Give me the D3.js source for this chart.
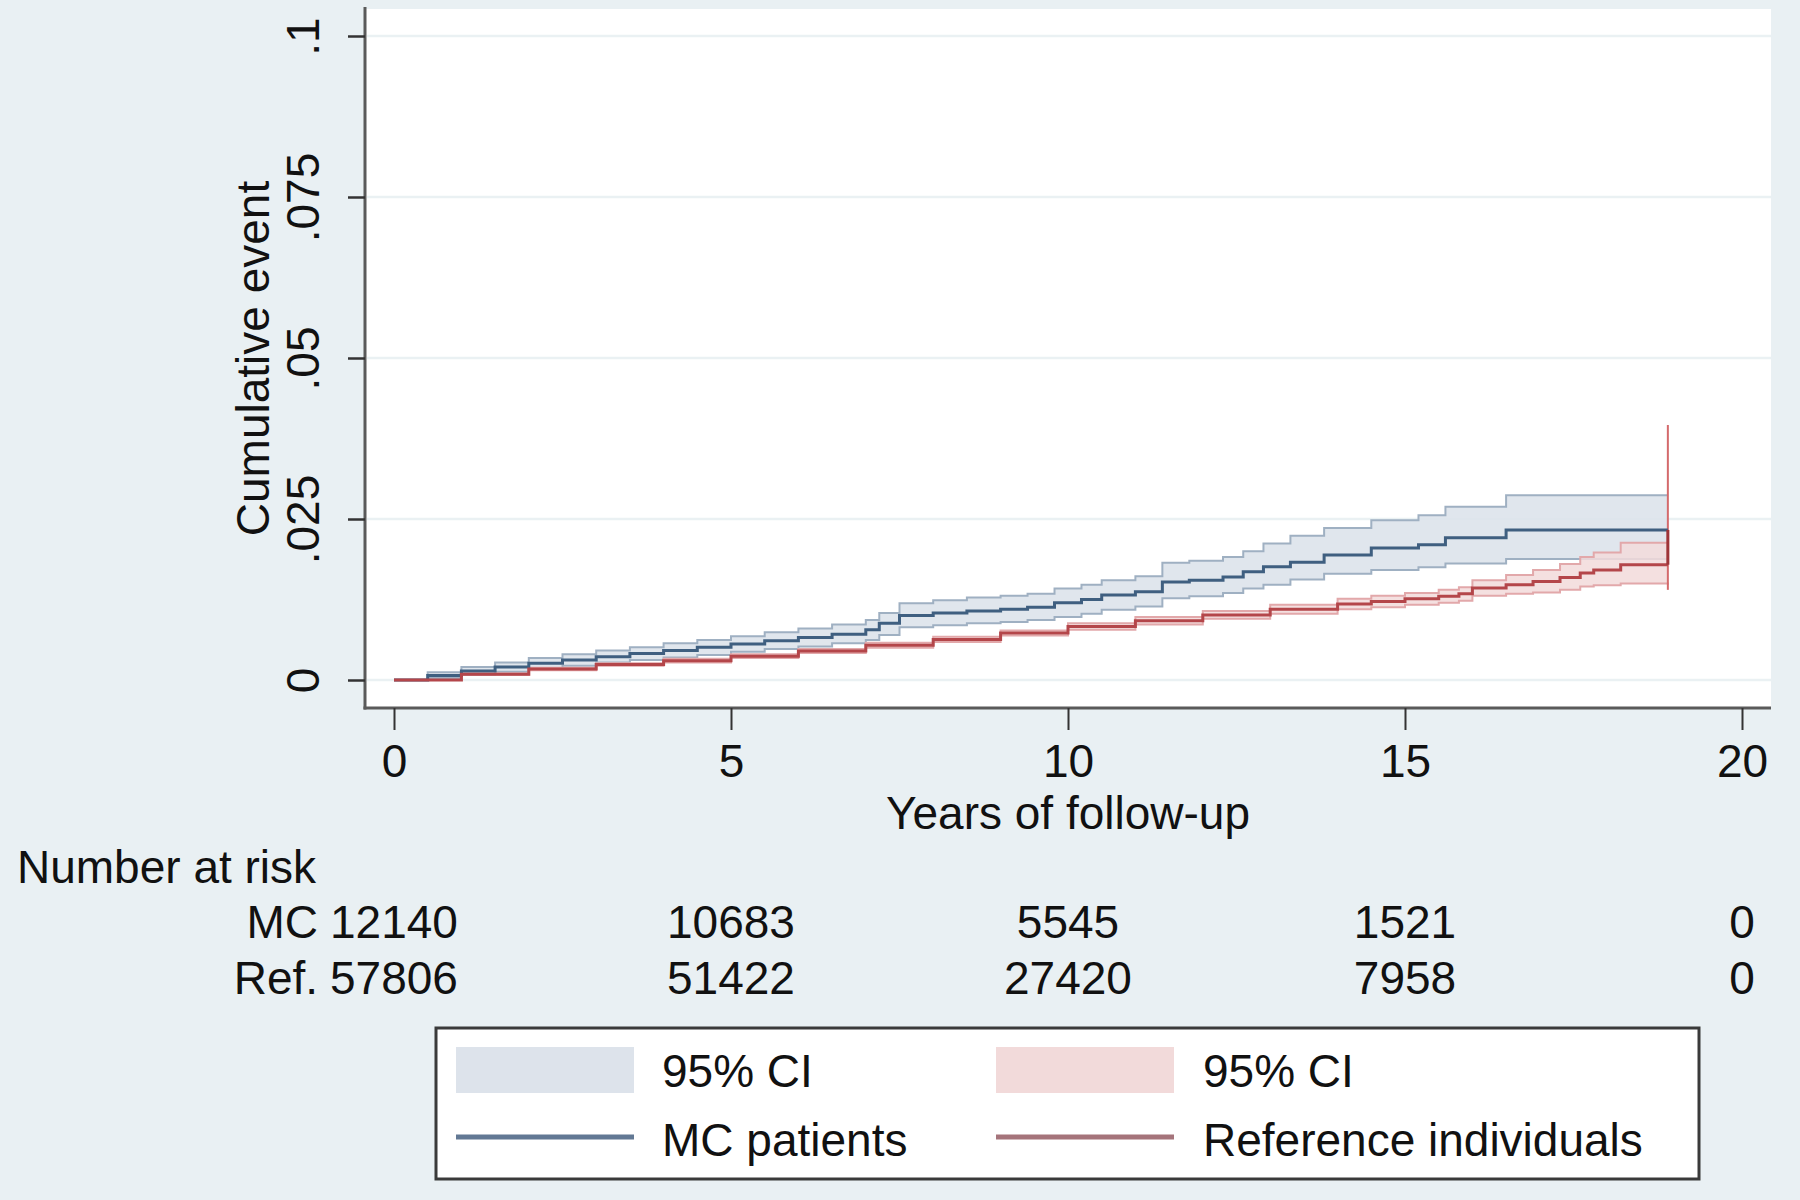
<!DOCTYPE html>
<html>
<head>
<meta charset="utf-8">
<script src="https://cdn.jsdelivr.net/npm/d3@7"></script>
<style>
  html, body { margin: 0; padding: 0; background: #e9f0f3; }
  svg { display: block; }
  text { font-family: "Liberation Sans", Arial, Helvetica, sans-serif; fill: #111; }
</style>
</head>
<body>
<svg id="chart" width="1800" height="1200"></svg>
<script>
// ---------------- data ----------------
const xTicks = [0, 5, 10, 15, 20];
const yTicks = [0, 0.025, 0.05, 0.075, 0.1];
const yTickLabels = ["0", ".025", ".05", ".075", ".1"];

// MC patients (Kaplan-Meier cumulative event, step function)
const mcTime = [0,0.5,1,1.5,2,2.5,3,3.5,4,4.5,5,5.5,6,6.5,7,7.2,7.5,8,8.5,9,9.4,9.8,10.2,10.5,11,11.4,11.8,12.3,12.6,12.9,13.3,13.8,14.5,15.2,15.6,16.5,18.9];
const mcEst  = [0,.0007,.0014,.0020,.0026,.0031,.0036,.0041,.0046,.0051,.0056,.0061,.0066,.0071,.0078,.0088,.0100,.0104,.0107,.0110,.0113,.0120,.0125,.0132,.0137,.0152,.0155,.0160,.0168,.0176,.0183,.0194,.0205,.0210,.0221,.0233,.0233];
const mcHi   = [0,.0012,.0020,.0027,.0034,.0040,.0046,.0051,.0057,.0062,.0068,.0074,.0080,.0086,.0093,.0104,.0119,.0124,.0128,.0131,.0134,.0142,.0148,.0155,.0161,.0182,.0185,.0191,.0200,.0212,.0224,.0236,.0248,.0256,.0269,.0287,.0287];
const mcLo   = [0,.0003,.0008,.0013,.0018,.0022,.0027,.0031,.0035,.0039,.0044,.0048,.0052,.0057,.0062,.0070,.0082,.0085,.0088,.0090,.0093,.0098,.0103,.0109,.0114,.0127,.0130,.0135,.0142,.0148,.0156,.0165,.0171,.0175,.0181,.0188,.0188];

// Reference individuals
const refTime = [0,1,2,3,4,5,6,7,8,9,10,11,12,13,14,14.5,15,15.5,15.8,16.0,16.5,16.9,17.3,17.6,17.8,18.2,18.9];
const refEst  = [0,.0009,.0017,.0024,.0030,.0037,.0045,.0054,.0063,.0073,.0083,.0092,.0101,.0110,.0118,.0122,.0126,.0130,.0134,.0143,.0148,.0153,.0159,.0166,.0171,.0179,.0179];
const refHi   = [0,.0010,.0019,.0026,.0033,.0040,.0048,.0058,.0067,.0077,.0088,.0098,.0107,.0117,.0126,.0131,.0135,.0140,.0144,.0155,.0163,.0171,.0180,.0191,.0198,.0213,.0213];
const refLo   = [0,.0008,.0015,.0022,.0027,.0034,.0042,.0050,.0059,.0069,.0078,.0086,.0095,.0103,.0110,.0113,.0117,.0120,.0123,.0131,.0134,.0136,.0140,.0145,.0147,.0150,.0148];
const refEndCI = [0.0140, 0.0396]; // CI spike at last time point

// Number at risk
const riskGroups = ["MC", "Ref."];
const riskMC  = [12140, 10683, 5545, 1521, 0];
const riskRef = [57806, 51422, 27420, 7958, 0];

const legendLabels = ["95% CI", "95% CI", "MC patients", "Reference individuals"];

// ---------------- layout ----------------
const svg = d3.select("#chart");
const W = 1800, H = 1200;
const plot = { left: 365, right: 1771, top: 9, bottom: 708 };
const x = d3.scaleLinear().domain([0, 20]).range([394, 1742]);
const y = d3.scaleLinear().domain([0, 0.1]).range([680, 36]);
const FS = 46;

const col = {
  bg: "#e9f0f3",
  grid: "#eaf1f3",
  axis: "#5a5a5a",
  mcLine: "#3f5f80", mcFill: "#dde3eb", mcEdge: "#9fb0c2",
  refLine: "#b4464a", refFill: "#f2dada", refEdge: "#e2a8aa",
  legMc: "#627894", legRef: "#a5747b"
};

svg.append("rect").attr("width", W).attr("height", H).attr("fill", col.bg);
svg.append("rect").attr("x", plot.left).attr("y", plot.top)
  .attr("width", plot.right - plot.left).attr("height", plot.bottom - plot.top)
  .attr("fill", "#ffffff");

// grid lines
svg.append("g").selectAll("line").data(yTicks).join("line")
  .attr("x1", plot.left + 2).attr("x2", plot.right)
  .attr("y1", d => y(d)).attr("y2", d => y(d))
  .attr("stroke", col.grid).attr("stroke-width", 2.5);

// ---------------- curves ----------------
function rows(t, e, lo, hi) { return t.map((tt, i) => ({ t: tt, e: e[i], lo: lo[i], hi: hi[i] })); }
const mcData = rows(mcTime, mcEst, mcLo, mcHi);
const refData = rows(refTime, refEst, refLo, refHi);

const area = d3.area().curve(d3.curveStepAfter).x(d => x(d.t)).y0(d => y(d.lo)).y1(d => y(d.hi));
const lineOf = key => d3.line().curve(d3.curveStepAfter).x(d => x(d.t)).y(d => y(d[key]));

const gC = svg.append("g");
gC.append("path").datum(mcData).attr("d", area).attr("fill", col.mcFill).attr("opacity", 0.9);
gC.append("path").datum(mcData).attr("d", lineOf("hi")).attr("fill", "none").attr("stroke", col.mcEdge).attr("stroke-width", 2);
gC.append("path").datum(mcData).attr("d", lineOf("lo")).attr("fill", "none").attr("stroke", col.mcEdge).attr("stroke-width", 2);

gC.append("path").datum(refData).attr("d", area).attr("fill", col.refFill).attr("opacity", 0.85);
gC.append("path").datum(refData).attr("d", lineOf("hi")).attr("fill", "none").attr("stroke", col.refEdge).attr("stroke-width", 2);
gC.append("path").datum(refData).attr("d", lineOf("lo")).attr("fill", "none").attr("stroke", col.refEdge).attr("stroke-width", 2);

// end-of-follow-up CI spike for reference group
const tEnd = refTime[refTime.length - 1];
gC.append("line").attr("x1", x(tEnd)).attr("x2", x(tEnd))
  .attr("y1", y(refEndCI[0])).attr("y2", y(refEndCI[1]))
  .attr("stroke", "#d46a6c").attr("stroke-width", 2);

gC.append("path").datum(mcData).attr("d", lineOf("e")).attr("fill", "none").attr("stroke", col.mcLine).attr("stroke-width", 3);
gC.append("path").datum(refData).attr("d", lineOf("e")).attr("fill", "none").attr("stroke", col.refLine).attr("stroke-width", 3);
// closing vertical between last estimates
gC.append("line").attr("x1", x(tEnd)).attr("x2", x(tEnd))
  .attr("y1", y(refEst[refEst.length - 1])).attr("y2", y(mcEst[mcEst.length - 1]))
  .attr("stroke", "#9e3438").attr("stroke-width", 3);

// ---------------- axes ----------------
// axis lines
svg.append("line").attr("x1", plot.left).attr("x2", plot.left).attr("y1", plot.top - 2).attr("y2", plot.bottom + 1.5)
  .attr("stroke", col.axis).attr("stroke-width", 3);
svg.append("line").attr("x1", plot.left - 1.5).attr("x2", plot.right).attr("y1", plot.bottom).attr("y2", plot.bottom)
  .attr("stroke", col.axis).attr("stroke-width", 3);

const xAxis = d3.axisBottom(x).tickValues(xTicks).tickSize(22).tickPadding(0).tickFormat(d3.format("d"));
const gx = svg.append("g").attr("transform", `translate(0,${plot.bottom})`).call(xAxis);
gx.select(".domain").remove();
gx.selectAll(".tick line").attr("stroke", "#333").attr("stroke-width", 2);
gx.selectAll(".tick text").attr("y", 69).attr("dy", 0)
  .style("font-size", FS + "px").style("fill", "#111");

const yAxis = d3.axisLeft(y).tickValues(yTicks).tickSize(17).tickFormat((d, i) => yTickLabels[i]);
const gy = svg.append("g").attr("transform", `translate(${plot.left},0)`).call(yAxis);
gy.select(".domain").remove();
gy.selectAll(".tick line").attr("stroke", "#333").attr("stroke-width", 2.5);
gy.selectAll(".tick text").attr("transform", "rotate(-90)")
  .attr("x", 0).attr("y", -46).attr("dy", 0).attr("text-anchor", "middle")
  .style("font-size", FS + "px").style("fill", "#111");

// axis titles
svg.append("text").attr("x", (plot.left + plot.right) / 2).attr("y", 829)
  .attr("text-anchor", "middle").style("font-size", FS + "px").text("Years of follow-up");
svg.append("text").attr("transform", `translate(269,${(plot.top + plot.bottom) / 2}) rotate(-90)`)
  .attr("text-anchor", "middle").style("font-size", FS + "px").text("Cumulative event");

// ---------------- number at risk ----------------
svg.append("text").attr("x", 17).attr("y", 883).style("font-size", FS + "px").text("Number at risk");
const riskRows = [riskMC, riskRef];
const riskY = [938, 994];
riskRows.forEach((vals, r) => {
  const g = svg.append("g");
  const texts = g.selectAll("text.n").data(vals).join("text").attr("class", "n")
    .attr("x", (d, i) => x(xTicks[i])).attr("y", riskY[r])
    .attr("text-anchor", "middle").style("font-size", FS + "px").text(d => d);
  const firstW = texts.node().getComputedTextLength();
  g.append("text").attr("x", x(xTicks[0]) - firstW / 2 - 12).attr("y", riskY[r])
    .attr("text-anchor", "end").style("font-size", FS + "px").text(riskGroups[r]);
});

// ---------------- legend ----------------
const leg = svg.append("g");
leg.append("rect").attr("x", 436).attr("y", 1028).attr("width", 1263).attr("height", 151)
  .attr("fill", "#ffffff").attr("stroke", "#3a3a3a").attr("stroke-width", 3);
const colX = [456, 996];
const textX = [662, 1203];
leg.append("rect").attr("x", colX[0]).attr("y", 1047).attr("width", 178).attr("height", 46).attr("fill", col.mcFill);
leg.append("rect").attr("x", colX[1]).attr("y", 1047).attr("width", 178).attr("height", 46).attr("fill", col.refFill);
leg.append("line").attr("x1", colX[0]).attr("x2", colX[0] + 178).attr("y1", 1137).attr("y2", 1137)
  .attr("stroke", col.legMc).attr("stroke-width", 5);
leg.append("line").attr("x1", colX[1]).attr("x2", colX[1] + 178).attr("y1", 1137).attr("y2", 1137)
  .attr("stroke", col.legRef).attr("stroke-width", 5);
const legPos = [[textX[0], 1087], [textX[1], 1087], [textX[0], 1156], [textX[1], 1156]];
legendLabels.forEach((lab, i) => {
  leg.append("text").attr("x", legPos[i][0]).attr("y", legPos[i][1]).style("font-size", FS + "px").text(lab);
});
</script>
</body>
</html>
